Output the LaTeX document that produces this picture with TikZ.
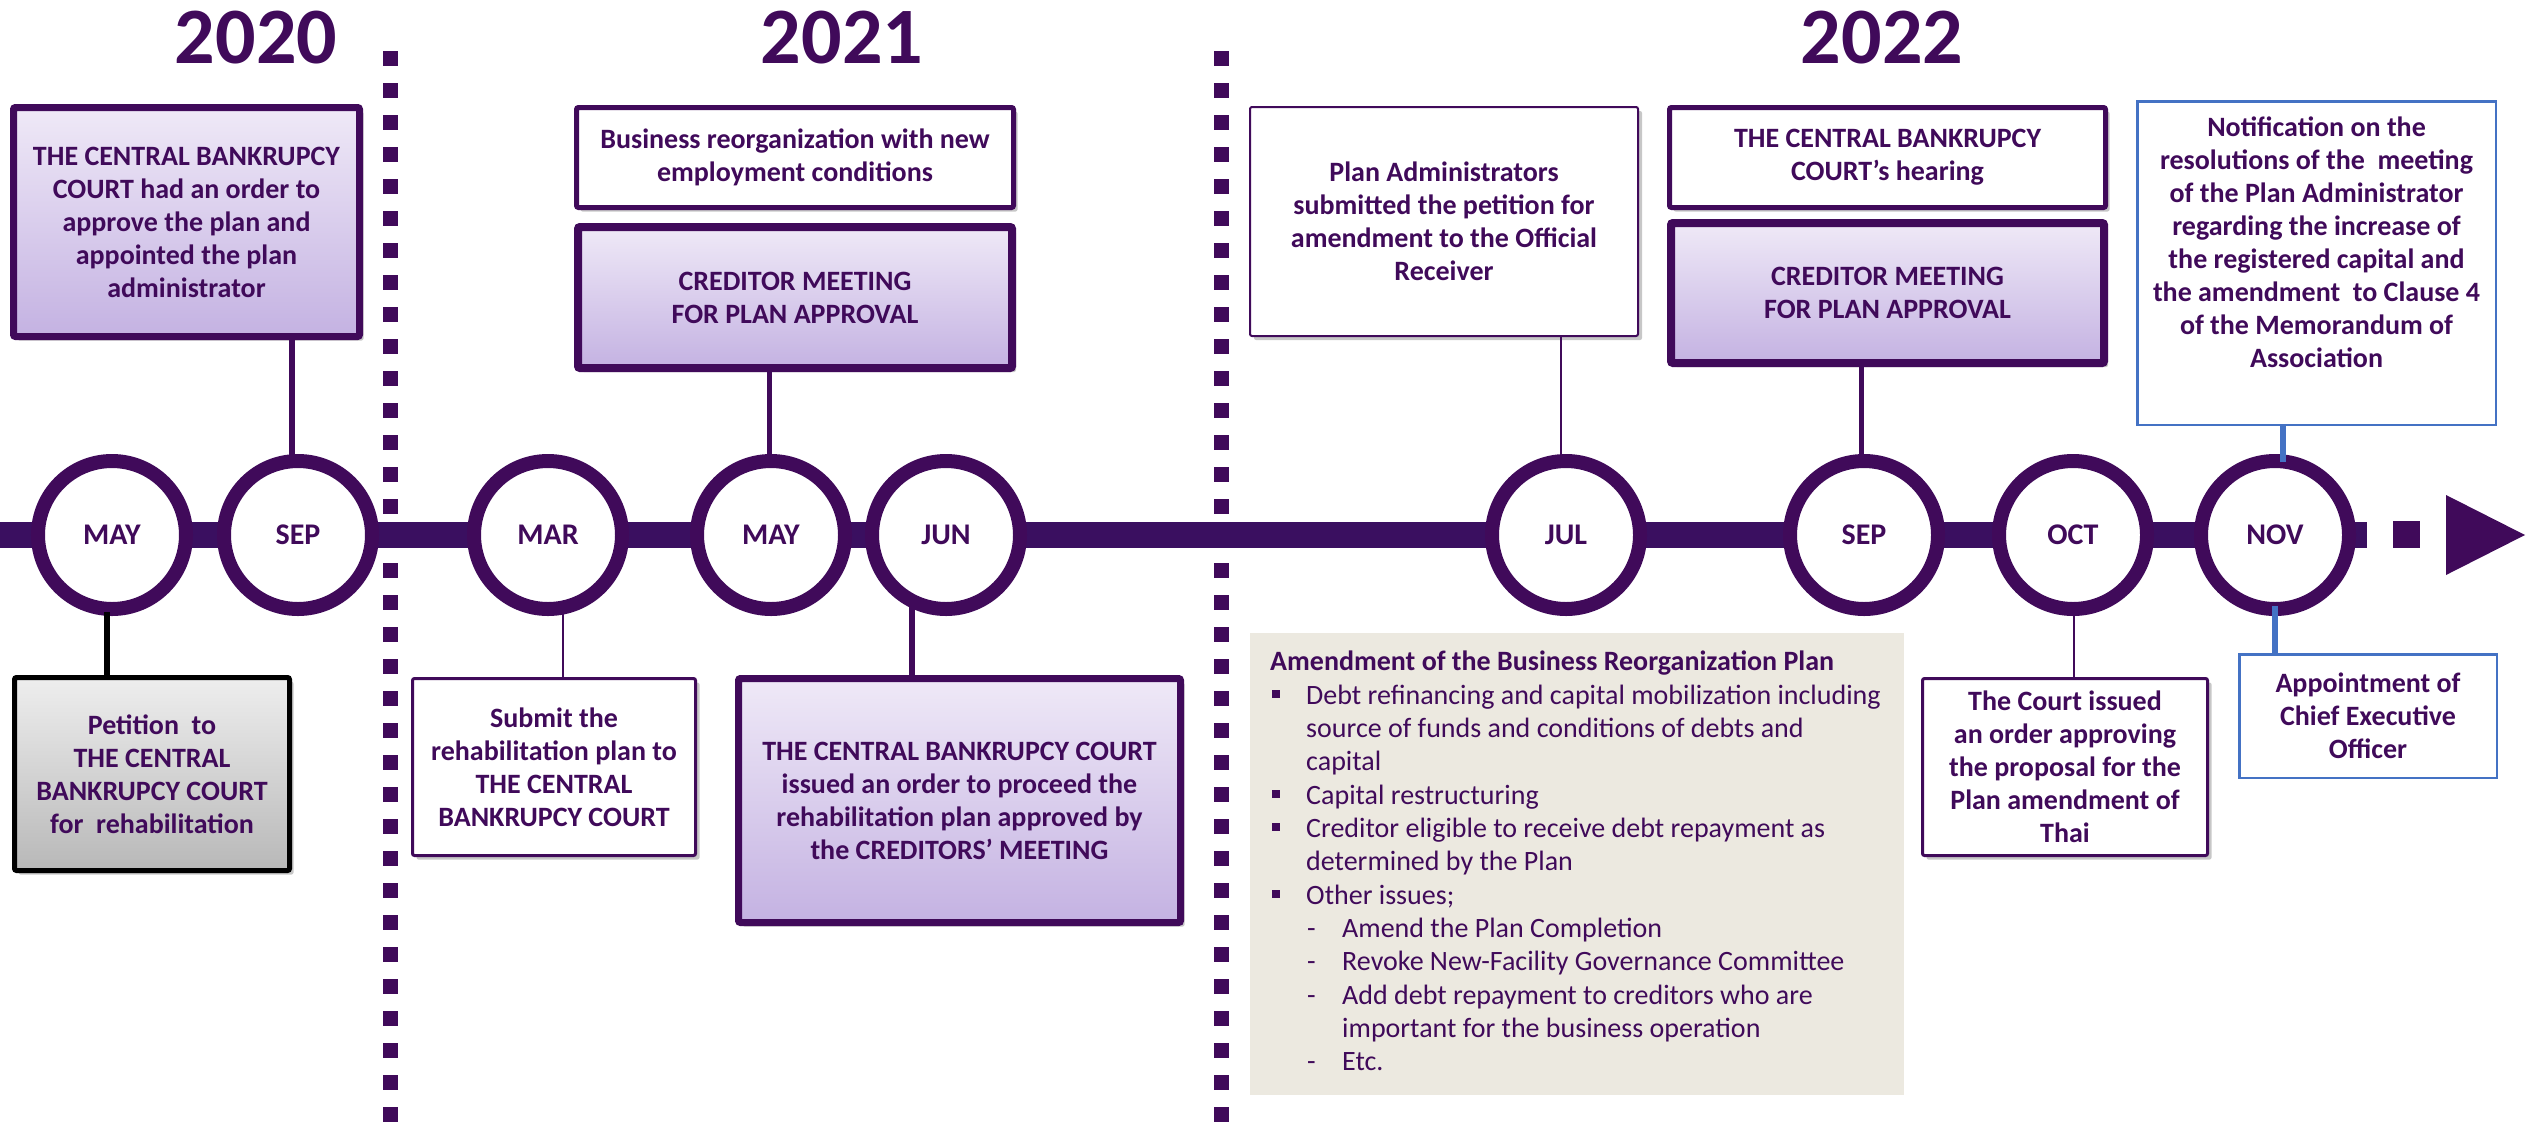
\documentclass[tikz,border=0pt]{standalone}
\usepackage{fontspec}
\setmainfont{Carlito}
\usetikzlibrary{shadows,calc,shapes.geometric}
\definecolor{tlp}{RGB}{64,10,90}
\definecolor{barp}{RGB}{58,15,96}
\definecolor{lavtop}{RGB}{239,233,247}
\definecolor{lavbot}{RGB}{196,178,226}
\definecolor{greytop}{RGB}{238,238,238}
\definecolor{greybot}{RGB}{184,184,184}
\definecolor{beige}{RGB}{236,233,224}
\definecolor{tlblue}{RGB}{68,114,196}
\begin{document}
\begin{tikzpicture}[x=1pt,y=-1pt,
  txt/.style={text=tlp, font=\bfseries\fontsize{28}{33}\selectfont, align=center},
  box/.style={txt, draw=tlp, inner sep=0, rounded corners=2pt,
    drop shadow={shadow xshift=4pt, shadow yshift=-4pt, opacity=0.22, fill=black}},
  lav/.style={top color=lavtop, bottom color=lavbot},
  wbox/.style={fill=white},
  mon/.style={circle, draw=tlp, line width=14pt, fill=white, minimum size=148pt,
    inner sep=0, text=tlp, font=\bfseries\fontsize{30}{30}\selectfont},
  yr/.style={text=tlp, font=\bfseries\fontsize{80}{80}\selectfont, anchor=base, inner sep=0},
  sepline/.style={tlp, line width=15pt, dash pattern=on 15pt off 17pt},
  li/.style={anchor=base west, inner sep=0, text=tlp, font=\fontsize{28}{33}\selectfont},
  conn/.style={tlp, line width=#1},
]
\useasboundingbox (0,0) rectangle (2526,1122);

% year separators
\coordinate (d1top) at (390,51);  \coordinate (d1bot) at (390,1122);
\coordinate (d2top) at (1221,51); \coordinate (d2bot) at (1221,1122);
\draw[sepline] (d1top) -- (d1bot);
\draw[sepline] (d2top) -- (d2bot);

% years
\node[yr] (y2020) at (256,63) {2020};
\node[yr] (y2021) at (842,63) {2021};
\node[yr] (y2022) at (1882,63) {2022};

% timeline bar
\coordinate (barstart) at (0,535);
\coordinate (barend) at (2367,535);
\draw[barp, line width=26pt] (barstart) -- (barend);
\node[fill=tlp, minimum size=27pt, inner sep=0] (dotsq) at (2406.5,534.5) {};
\coordinate (arrowtip) at (2525,535);
\fill[tlp] (2446,495) -- (arrowtip) -- (2446,575) -- cycle;

% month circles
\node[mon] (may20) at (112,535) {MAY};
\node[mon] (sep20) at (298,535) {SEP};
\node[mon] (mar21) at (548,535) {MAR};
\node[mon] (may21) at (771,535) {MAY};
\node[mon] (jun21) at (946,535) {JUN};
\node[mon] (jul22) at (1566,535) {JUL};
\node[mon] (sep22) at (1864,535) {SEP};
\node[mon] (oct22) at (2073,535) {OCT};
\node[mon] (nov22) at (2275,535) {NOV};

% boxes above
\node[box, lav, line width=7pt, minimum width=346pt, minimum height=229pt] (sep20box) at (186.5,222)
  {THE CENTRAL BANKRUPCY\\COURT had an order to\\approve the plan and\\appointed the plan\\administrator};
\node[box, wbox, line width=5pt, minimum width=437pt, minimum height=100pt] (busbox) at (795,157.5)
  {Business reorganization with new\\employment conditions};
\node[box, lav, line width=8pt, minimum width=434pt, minimum height=141pt] (cred21) at (795,297.5)
  {CREDITOR MEETING\\FOR PLAN APPROVAL};
\node[box, wbox, line width=2pt, minimum width=388pt, minimum height=229pt] (planbox) at (1444,221.5)
  {Plan Administrators\\submitted the petition for\\amendment to the Official\\Receiver};
\node[box, wbox, line width=5pt, minimum width=436pt, minimum height=100pt] (hearbox) at (1887.5,157.5)
  {THE CENTRAL BANKRUPCY\\COURT’s hearing};
\node[box, lav, line width=8pt, minimum width=433pt, minimum height=140pt] (cred22) at (1887.5,293)
  {CREDITOR MEETING\\FOR PLAN APPROVAL};
\node[draw=tlblue, fill=white, line width=2.5pt, minimum width=358.5pt, minimum height=323.5pt, inner sep=0] (notebox) at (2316.5,263) {};
\node[txt, inner sep=0] (notetext) at (2316.5,242)
  {Notification on the\\resolutions of the\ \ meeting\\of the Plan Administrator\\regarding the increase of\\the registered capital and\\the amendment\ \ to Clause 4\\of the Memorandum of\\Association};

% boxes below
\node[box, draw=black, top color=greytop, bottom color=greybot, line width=5pt, minimum width=275pt, minimum height=193pt] (petbox) at (152,774)
  {Petition\ \ to\\THE CENTRAL\\BANKRUPCY COURT\\for\ \ rehabilitation};
\node[box, wbox, line width=3pt, minimum width=283pt, minimum height=177pt] (subbox) at (554,767)
  {Submit the\\rehabilitation plan to\\THE CENTRAL\\BANKRUPCY COURT};
\node[box, lav, line width=7pt, minimum width=442pt, minimum height=244pt] (courtbox) at (959.5,800.5)
  {THE CENTRAL BANKRUPCY COURT\\issued an order to proceed the\\rehabilitation plan approved by\\the CREDITORS’ MEETING};
\node[box, wbox, line width=3pt, minimum width=285pt, minimum height=177pt] (octbox) at (2065,767)
  {The Court issued\\an order approving\\the proposal for the\\Plan amendment of\\Thai};
\node[txt, draw=tlblue, fill=white, line width=2.5pt, minimum width=257.5pt, minimum height=123.5pt, inner sep=0] (ceobox) at (2368,716)
  {Appointment of\\Chief Executive\\Officer};

% amendment panel
\node[fill=beige, minimum width=654pt, minimum height=462pt, inner sep=0] (amend) at (1577,864) {};
\node[li, font=\bfseries\fontsize{28}{33}\selectfont] (am0) at (1270,670) {Amendment of the Business Reorganization Plan};
\node[li] (am1) at (1306,704) {Debt refinancing and capital mobilization including};
\node[li] (am1b) at (1306,737) {source of funds and conditions of debts and};
\node[li] (am1c) at (1306,770) {capital};
\node[li] (am2) at (1306,804) {Capital restructuring};
\node[li] (am3) at (1306,837) {Creditor eligible to receive debt repayment as};
\node[li] (am3b) at (1306,870) {determined by the Plan};
\node[li] (am4) at (1306,904) {Other issues;};
\node[li] (dash1) at (1307,937) {-};
\node[li] (am5) at (1342,937) {Amend the Plan Completion};
\node[li] (dash2) at (1307,970) {-};
\node[li] (am6) at (1342,970) {Revoke New-Facility Governance Committee};
\node[li] (dash3) at (1307,1004) {-};
\node[li] (am7) at (1342,1004) {Add debt repayment to creditors who are};
\node[li] (am7b) at (1342,1037) {important for the business operation};
\node[li] (dash4) at (1307,1070) {-};
\node[li] (am8) at (1342,1070) {Etc.};
\foreach \b in {704,804,837,904}{
  \fill[tlp] (1272,\b-14) rectangle (1280,\b-6);
}

% connectors (start just inside the rings; y grows downward)
\coordinate (c-may20) at ($(may20.south)+(-5,-4)$);
\coordinate (c-sep20) at ($(sep20.north)+(-6,4)$);
\coordinate (c-mar21) at ($(mar21.south)+(15,-6)$);
\coordinate (c-may21) at ($(may21.north)+(-2,4)$);
\coordinate (c-jun21) at ($(jun21.south)+(-34,-10)$);
\coordinate (c-jul22) at ($(jul22.north)+(-5,4)$);
\coordinate (c-sep22) at ($(sep22.north)+(-3,4)$);
\coordinate (c-oct22) at ($(oct22.south)+(1,-4)$);
\coordinate (novtop) at ($(nov22.north)+(8,8)$);
\coordinate (novbot) at ($(nov22.south)+(0,-10)$);
\draw[black, line width=6pt] (c-may20) -- (c-may20 |- petbox.north);
\draw[conn=6pt] (c-sep20) -- (c-sep20 |- sep20box.south);
\draw[conn=2.5pt] (c-mar21) -- (c-mar21 |- subbox.north);
\draw[conn=5pt] (c-may21) -- (c-may21 |- cred21.south);
\draw[conn=6pt] (c-jun21) -- (c-jun21 |- courtbox.north);
\draw[conn=2.5pt] (c-jul22) -- (c-jul22 |- planbox.south);
\draw[conn=5pt] (c-sep22) -- (c-sep22 |- cred22.south);
\draw[conn=2.5pt] (c-oct22) -- (c-oct22 |- octbox.north);
\draw[tlblue, line width=6pt] (novtop) -- (novtop |- notebox.south);
\draw[tlblue, line width=6pt] (novbot) -- (novbot |- ceobox.north);
\end{tikzpicture}
\end{document}
